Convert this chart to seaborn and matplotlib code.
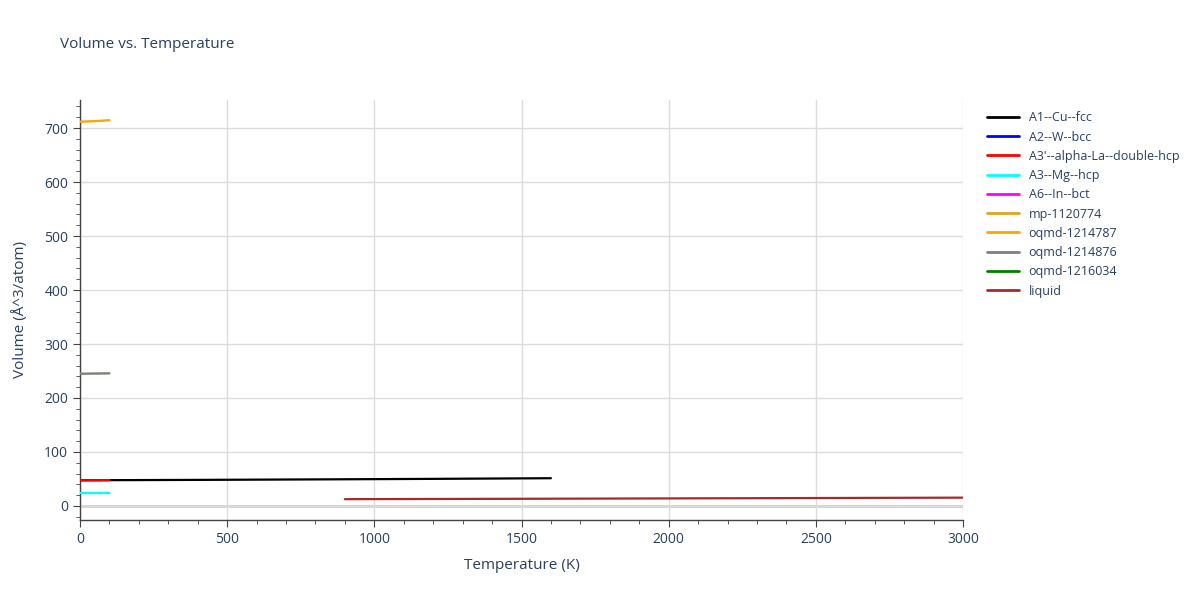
import pandas as pd
import numpy as np
import matplotlib.pyplot as plt
import seaborn as sns
from matplotlib.ticker import MultipleLocator

# phases, temperatures (K) and volumes (A^3/atom)
phases = ['A1--Cu--fcc', 'A2--W--bcc', "A3'--alpha-La--double-hcp", 'A3--Mg--hcp',
          'A6--In--bct', 'mp-1120774', 'oqmd-1214787', 'oqmd-1214876',
          'oqmd-1216034', 'liquid']
colors = ['black', 'blue', 'red', 'cyan', 'magenta', 'goldenrod', 'orange',
          'gray', 'green', 'brown']
# the ones that sit under another line in the chart
hidden = ['A2--W--bcc', 'A6--In--bct', 'mp-1120774', 'oqmd-1216034']

temps = {
    'A1--Cu--fcc': [0, 400, 800, 1200, 1600],
    'A2--W--bcc': [0, 50, 100],
    "A3'--alpha-La--double-hcp": [0, 50, 100],
    'A3--Mg--hcp': [0, 50, 100],
    'A6--In--bct': [0, 50, 100],
    'mp-1120774': [0, 50, 100],
    'oqmd-1214787': [0, 50, 100],
    'oqmd-1214876': [0, 50, 100],
    'oqmd-1216034': [0, 50, 100],
    'liquid': [900, 1500, 2000, 2500, 3000],
}
volumes = {
    'A1--Cu--fcc': [47.6, 48.3, 49.2, 50.2, 51.4],
    'A2--W--bcc': [47.5, 47.6, 47.8],
    "A3'--alpha-La--double-hcp": [47.5, 47.6, 47.8],
    'A3--Mg--hcp': [24.0, 24.1, 24.2],
    'A6--In--bct': [24.0, 24.1, 24.2],
    'mp-1120774': [711.8, 712.8, 714.5],
    'oqmd-1214787': [711.8, 712.8, 714.5],
    'oqmd-1214876': [245.0, 245.3, 245.6],
    'oqmd-1216034': [245.0, 245.3, 245.6],
    'liquid': [12.6, 13.3, 14.0, 14.7, 15.4],
}

sns.set_style('white')
plt.rcParams['font.family'] = ['Open Sans', 'DejaVu Sans']
fig = plt.figure(figsize=(12, 6), dpi=100)
ax = fig.add_axes([80 / 1200, 80 / 600, 883 / 1200, 420 / 600])

for p, c in zip(phases, colors):
    d = pd.DataFrame({'T': temps[p], 'V': volumes[p]})
    sns.lineplot(data=d, x='T', y='V', color=c, label=p,
                 linewidth=1.0 if p in hidden else 1.6,
                 ax=ax, estimator=None, sort=False,
                 zorder=2 if p in hidden else 3)

ax.set_xlim(0, 3000)
ax.set_ylim(-26, 752)
ax.xaxis.set_major_locator(MultipleLocator(500))
ax.xaxis.set_minor_locator(MultipleLocator(100))
ax.yaxis.set_major_locator(MultipleLocator(100))
ax.yaxis.set_minor_locator(MultipleLocator(20))
ax.grid(True, which='major', color='#dcdcdc', linewidth=1)
ax.axhline(0, color='#cccccc', linewidth=2, zorder=0)
for s in ['top', 'right']:
    ax.spines[s].set_visible(False)
for s in ['left', 'bottom']:
    ax.spines[s].set_color('#444444')
    ax.spines[s].set_linewidth(1)
ax.tick_params(which='major', direction='out', length=5, color='#444444',
               labelsize=10, labelcolor='#2a3f5f')
ax.tick_params(which='minor', direction='out', length=3, color='#444444')
ax.tick_params(axis='both', which='both', bottom=True, left=True)

ax.set_xlabel('Temperature (K)', fontsize=11, color='#2a3f5f', labelpad=8)
ax.set_ylabel('Volume (Å^3/atom)', fontsize=11, color='#2a3f5f', labelpad=12)
fig.text(60 / 1200, 1 - 45 / 600, 'Volume vs. Temperature', fontsize=11,
         color='#2a3f5f', va='center')

leg = ax.legend(loc='upper left', bbox_to_anchor=(1.015, 1.0), frameon=False,
                fontsize=9, handlelength=2.5, labelspacing=0.5)
for txt in leg.get_texts():
    txt.set_color('#2a3f5f')
for line in leg.get_lines():
    line.set_linewidth(2)

fig.savefig('out.png', dpi=100)
